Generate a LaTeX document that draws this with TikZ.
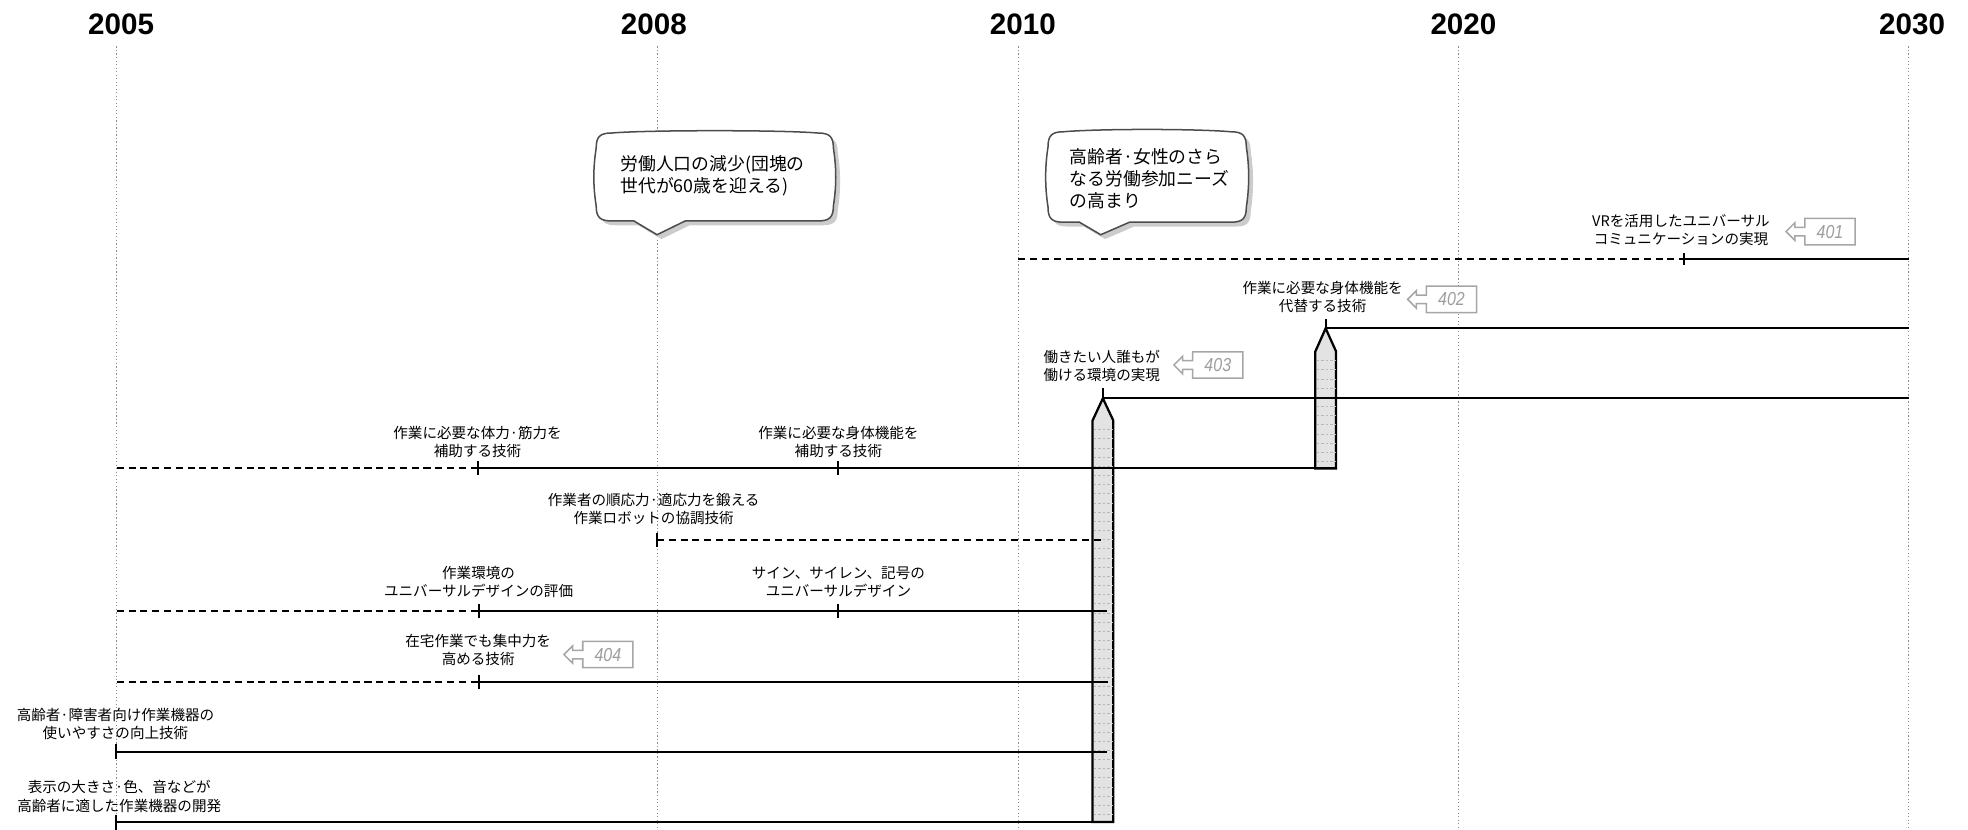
\documentclass[tikz,border=0pt]{standalone}
\usepackage{fontspec}
\setmainfont{Liberation Sans}
\newfontfamily\jfont{Noto Sans CJK JP}
\newfontfamily\yfont{Liberation Sans}
\newfontfamily\tagfont[FakeStretch=0.85]{Liberation Sans}
\tikzset{
  yearlabel/.style={font=\yfont\bfseries\fontsize{11.8pt}{12pt}\selectfont, anchor=base, inner sep=0},
  yearline/.style={black!45, line width=0.4pt, dash pattern=on 0.5pt off 0.9pt},
  lbl/.style={font=\jfont\fontsize{5.8pt}{7.25pt}\selectfont, align=center, inner sep=0},
  btext/.style={font=\jfont\fontsize{7.1pt}{8.7pt}\selectfont, align=left, inner sep=0, anchor=west},
  solidrow/.style={line width=0.8pt},
  dashrow/.style={line width=0.8pt, dash pattern=on 2.8pt off 1.9pt},
  tickmark/.style={line width=0.8pt},
  pencil/.style={draw, line width=0.9pt, fill=black!11},
  pencilline/.style={black!28, line width=0.25pt, dash pattern=on 1pt off 0.8pt},
  tagbox/.style={draw=black!35, fill=white, line width=0.6pt},
  tagtext/.style={font=\tagfont\itshape\fontsize{7.5pt}{8pt}\selectfont, text=black!38, inner sep=0},
  bubble/.style={draw=black!70, fill=white, line width=0.6pt},
  bubbleshadow/.style={fill=black!20, draw=none},
}
\newcommand\bubblepath[8]{%
  ({#1},{#2+12}) .. controls ({#1},{#2+3}) and ({#1+3},{#2}) .. ({#1+12},{#2})
  .. controls ({#1+40},{#2-2.5}) and ({#3-40},{#2-2.5}) .. ({#3-12},{#2})
  .. controls ({#3-3},{#2}) and ({#3},{#2+3}) .. ({#3},{#2+12})
  .. controls ({#3+2.5},{#2+28}) and ({#3+2.5},{#4-28}) .. ({#3},{#4-12})
  .. controls ({#3},{#4-3}) and ({#3-3},{#4}) .. ({#3-12},{#4})
  -- ({#7},{#4}) -- ({#6},{#8}) -- ({#5},{#4})
  -- ({#1+12},{#4})
  .. controls ({#1+3},{#4}) and ({#1},{#4-3}) .. ({#1},{#4-12})
  .. controls ({#1-2.5},{#4-28}) and ({#1-2.5},{#2+28}) .. cycle}
\newcommand\reftag[4]{%
  \draw[tagbox] ({#2-15},{#3}) -- ({#2-8},{#3-7}) -- ({#2-8},{#3-3.4}) -- ({#2},{#3-3.4})
    -- ({#2},{#3-10.5}) -- ({#2+40},{#3-10.5}) -- ({#2+40},{#3+10.5}) -- ({#2},{#3+10.5})
    -- ({#2},{#3+3.4}) -- ({#2-8},{#3+3.4}) -- ({#2-8},{#3+7}) -- cycle;
  \node[tagtext] (#1) at ({#2+20},{#3}) {#4};}
\begin{document}
\begin{tikzpicture}[x=0.5pt,y=-0.5pt]
\useasboundingbox (0,0) rectangle (1568,661);

% year grid
\foreach \n/\xx/\lx/\yr in {y05/93/96.5/2005, y08/523.5/521/2008, y10/811.4/815/2010, y20/1162/1166/2020, y30/1520.7/1523.5/2030}{
  \coordinate (\n top) at (\xx,37);
  \coordinate (\n bot) at (\xx,661);
  \draw[yearline] (\n top) -- (\n bot);
  \node[yearlabel] (\n lab) at (\lx,27.3) {\yr};
}

% speech bubbles
\path[bubbleshadow, shift={(3.5,3.5)}] \bubblepath{475}{106}{664}{176}{505}{523.5}{546}{187};
\path[bubble] \bubblepath{475}{106}{664}{176}{505}{523.5}{546}{187};
\node[btext] (bub1) at (494,140.1) {労働人口の減少(団塊の\\世代が60歳を迎える)};

\path[bubbleshadow, shift={(3.5,3.5)}] \bubblepath{835}{105}{993}{177}{860}{877}{900}{187};
\path[bubble] \bubblepath{835}{105}{993}{177}{860}{877}{900}{187};
\node[btext] (bub2) at (852,142.5) {高齢者·女性のさら\\なる労働参加ニーズ\\の高まり};

% pencils
\filldraw[pencil] (1056.2,261.6) -- (1064.5,280) -- (1064.5,373.2) -- (1048,373.2) -- (1048,280) -- cycle;
\foreach \k in {1,...,12} \draw[pencilline] (1049,{280+\k*7.3}) -- (1063.5,{280+\k*7.3});
\filldraw[pencil] (878.7,317.4) -- (887,335) -- (887,655) -- (870.5,655) -- (870.5,335) -- cycle;
\foreach \k in {1,...,43} \draw[pencilline] (871.5,{335+\k*7.3}) -- (886,{335+\k*7.3});

% row A (401)
\coordinate (a0) at (811.4,206.5);
\coordinate (a1) at (1341.8,206.5);
\coordinate (a2) at (1520.7,206.5);
\draw[dashrow] (a0) -- (a1);
\draw[solidrow] (a1) -- (a2);
\draw[tickmark] ([yshift=2.5pt]a1) -- ([yshift=-2.5pt]a1);
\node[lbl] (la) at (1339.3,183.2) {VRを活用したユニバーサル\\コミュニケーションの実現};
\reftag{t401}{1438}{184.5}{401}

% row B (402)
\coordinate (b1) at (1056.2,261.6);
\coordinate (b2) at (1520.7,261.6);
\draw[solidrow] (b1) -- (b2);
\draw[tickmark] (b1) -- ([yshift=3.6pt]b1);
\node[lbl] (lb) at (1053.8,236.6) {作業に必要な身体機能を\\代替する技術};
\reftag{t402}{1136.5}{238.5}{402}

% row C (403)
\coordinate (c1) at (878.7,317.4);
\coordinate (c2) at (1520.7,317.4);
\draw[solidrow] (c1) -- (c2);
\draw[tickmark] (c1) -- ([yshift=4pt]c1);
\node[lbl] (lc) at (877.8,291.5) {働きたい人誰もが\\働ける環境の実現};
\reftag{t403}{950.3}{290.8}{403}

% row D
\coordinate (d0) at (93,373.2);
\coordinate (d1) at (380.6,373.2);
\coordinate (d2) at (667.8,373.2);
\coordinate (d3) at (1064.5,373.2);
\draw[dashrow] (d0) -- (d1);
\draw[solidrow] (d1) -- (d3);
\draw[tickmark] ([yshift=2.8pt]d1) -- ([yshift=-2.8pt]d1);
\draw[tickmark] ([yshift=2.8pt]d2) -- ([yshift=-2.8pt]d2);
\node[lbl] (ld1) at (380.5,352) {作業に必要な体力·筋力を\\補助する技術};
\node[lbl] (ld2) at (668,352) {作業に必要な身体機能を\\補助する技術};

% row E
\coordinate (e1) at (523.5,430);
\coordinate (e2) at (880.5,430);
\draw[dashrow] (e1) -- (e2);
\draw[tickmark] ([yshift=2.8pt]e1) -- ([yshift=-2.8pt]e1);
\node[lbl] (le) at (520.8,405.3) {作業者の順応力·適応力を鍛える\\作業ロボットの協調技術};

% row F
\coordinate (f0) at (93,486.5);
\coordinate (f1) at (381.3,486.5);
\coordinate (f2) at (667.8,486.5);
\coordinate (f3) at (881.8,486.5);
\draw[dashrow] (f0) -- (f1);
\draw[solidrow] (f1) -- (f3);
\draw[tickmark] ([yshift=2.8pt]f1) -- ([yshift=-2.8pt]f1);
\draw[tickmark] ([yshift=2.8pt]f2) -- ([yshift=-2.8pt]f2);
\node[lbl] (lf1) at (381.3,463.8) {作業環境の\\ユニバーサルデザインの評価};
\node[lbl] (lf2) at (668,463.8) {サイン、サイレン、記号の\\ユニバーサルデザイン};

% row G (404)
\coordinate (g0) at (93,543);
\coordinate (g1) at (381.3,543);
\coordinate (g2) at (882.5,543);
\draw[dashrow] (g0) -- (g1);
\draw[solidrow] (g1) -- (g2);
\draw[tickmark] ([yshift=2.8pt]g1) -- ([yshift=-2.8pt]g1);
\node[lbl] (lg) at (381,518) {在宅作業でも集中力を\\高める技術};
\reftag{t404}{464.3}{521.5}{404}

% row H
\coordinate (h1) at (92.7,599);
\coordinate (h2) at (881.8,599);
\draw[solidrow] (h1) -- (h2);
\draw[tickmark] ([yshift=3pt]h1) -- ([yshift=-3pt]h1);
\node[lbl] (lh) at (92,576.6) {高齢者·障害者向け作業機器の\\使いやすさの向上技術};

% row I
\coordinate (i1) at (92.7,655);
\coordinate (i2) at (870.5,655);
\draw[solidrow] (i1) -- (i2);
\draw[tickmark] ([yshift=3pt]i1) -- ([yshift=-3pt]i1);
\node[lbl] (li) at (95,634.5) {表示の大きさ·色、音などが\\高齢者に適した作業機器の開発};
\end{tikzpicture}
\end{document}
